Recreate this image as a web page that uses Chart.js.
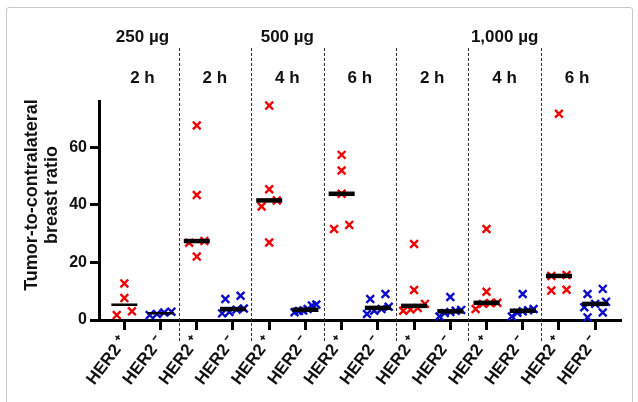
<!DOCTYPE html>
<html>
<head>
<meta charset="utf-8">
<script src="https://cdn.jsdelivr.net/npm/chart.js@4.4.1/dist/chart.umd.min.js"></script>
<style>
    body { margin: 0; background: #fff; }
    #frame { position: absolute; left: 6px; top: 7px; width: 625px; height: 420px; border: 1px solid #c9c9c9; border-radius: 3px; }
    #wrap { position: absolute; left: 0; top: 0; width: 638px; height: 402px; }
</style>
</head>
<body>
<div id="frame"></div>
<div id="wrap"><canvas id="chart" width="638" height="402"></canvas></div>
<script>
const xLabels = ['HER2 \u207A', 'HER2 \u207B', 'HER2 \u207A', 'HER2 \u207B', 'HER2 \u207A', 'HER2 \u207B', 'HER2 \u207A',
                 'HER2 \u207B', 'HER2 \u207A', 'HER2 \u207B', 'HER2 \u207A', 'HER2 \u207B', 'HER2 \u207A', 'HER2 \u207B'];
const timeLabels = ['2 h', '2 h', '4 h', '6 h', '2 h', '4 h', '6 h'];
const doseLabels = ['250 \u00B5g', '500 \u00B5g', '1,000 \u00B5g'];
const dosePeriods = [1, 3, 3];   // how many time points sit under each dose
const yTicks = [0, 20, 40, 60];
const yTitle = ['Tumor-to-contralateral', 'breast ratio'];

// tumor-to-contralateral ratios, one list per time point
const her2Pos = [
    [1.7, 3.0, 7.6, 12.7],
    [22.0, 26.8, 27.4, 43.4, 67.5],
    [26.9, 39.4, 41.5, 45.4, 74.4],
    [31.6, 33.0, 43.8, 51.9, 57.3],
    [3.2, 3.6, 4.2, 5.6, 10.4, 26.4],
    [3.8, 5.6, 5.9, 6.0, 9.8, 31.6],
    [10.2, 10.5, 15.3, 15.6, 71.6]
];
const her2Neg = [
    [1.7, 2.1, 2.6, 2.9],
    [2.3, 2.8, 3.6, 4.0, 7.3, 8.4],
    [2.7, 3.1, 3.3, 3.8, 5.0, 5.4],
    [2.1, 3.2, 3.8, 4.6, 7.3, 9.0],
    [1.2, 2.4, 2.8, 3.2, 3.5, 8.0],
    [1.2, 2.5, 3.0, 3.4, 3.8, 9.0],
    [0.9, 2.6, 4.4, 5.6, 6.3, 9.0, 10.8]
];

const FONT = '"Liberation Sans", Arial, sans-serif';

function median(vals) {
    const s = [...vals].sort((a, b) => a - b);
    const m = Math.floor(s.length / 2);
    return s.length % 2 ? s[m] : (s[m - 1] + s[m]) / 2;
}

// spread points with close values side by side, like a scatter dot plot
function spreadOffsets(vals) {
    const order = vals.map((v, i) => i).sort((a, b) => vals[a] - vals[b]);
    const offsets = new Array(vals.length).fill(0);
    let start = 0;
    while (start < order.length) {
        let end = start + 1;
        while (end < order.length && vals[order[end]] - vals[order[start]] < 3) end++;
        const n = end - start;
        const step = n > 1 ? Math.min(0.42, 0.6 / (n - 1)) : 0;
        for (let k = 0; k < n; k++) offsets[order[start + k]] = (k - (n - 1) / 2) * step;
        start = end;
    }
    return offsets;
}

function buildPoints(groups, first) {
    const pts = [];
    groups.forEach((vals, g) => {
        const off = spreadOffsets(vals);
        vals.forEach((v, i) => pts.push({ x: first + g * 2 + off[i], y: v }));
    });
    return pts;
}

const medianPoints = [];
her2Pos.forEach((vals, g) => {
    medianPoints.push({ x: g * 2 + 1, y: median(vals) });
    medianPoints.push({ x: g * 2 + 2, y: median(her2Neg[g]) });
});

const headerPlugin = {
    id: 'headers',
    beforeDatasetsDraw(chart) {
        const ctx = chart.ctx;
        const xs = chart.scales.x;
        ctx.save();
        ctx.strokeStyle = '#333';
        ctx.lineWidth = 1;
        ctx.setLineDash([3, 2]);
        for (let g = 1; g < timeLabels.length; g++) {
            const px = Math.round(xs.getPixelForValue(g * 2 + 0.5)) + 0.5;
            ctx.beginPath();
            ctx.moveTo(px, 48);
            ctx.lineTo(px, 342);
            ctx.stroke();
        }
        ctx.setLineDash([]);
        ctx.fillStyle = '#111';
        ctx.font = 'bold 17px ' + FONT;
        ctx.textAlign = 'center';
        ctx.textBaseline = 'middle';
        timeLabels.forEach((t, g) => {
            ctx.fillText(t, xs.getPixelForValue(g * 2 + 1.5), 78);
        });
        let startGroup = 0;
        doseLabels.forEach((d, i) => {
            const a = startGroup * 2 + 1;
            const b = (startGroup + dosePeriods[i]) * 2;
            ctx.fillText(d, xs.getPixelForValue((a + b) / 2), 37);
            startGroup += dosePeriods[i];
        });

        // y axis title, two lines
        ctx.translate(32, 195);
        ctx.rotate(-Math.PI / 2);
        ctx.font = 'bold 18px ' + FONT;
        yTitle.forEach((t, i) => ctx.fillText(t, 0, i * 20));
        ctx.restore();
    }
};

new Chart(document.getElementById('chart'), {
    type: 'scatter',
    data: {
        datasets: [
            {
                label: 'Median',
                data: medianPoints,
                pointStyle: 'line',
                pointRadius: 13,
                pointBorderColor: '#000',
                pointBorderWidth: ctx => ctx.dataIndex < 2 ? 2.5 : 4.5,
                clip: false
            },
            {
                label: 'HER2 +',
                data: buildPoints(her2Pos, 1),
                pointStyle: 'crossRot',
                pointRadius: 5.5,
                pointBorderColor: '#f00000',
                pointBorderWidth: 2.4,
                clip: false
            },
            {
                label: 'HER2 -',
                data: buildPoints(her2Neg, 2),
                pointStyle: 'crossRot',
                pointRadius: 5.5,
                pointBorderColor: '#0a0ac8',
                pointBorderWidth: 2.4,
                clip: false
            }
        ]
    },
    options: {
        responsive: false,
        animation: false,
        layout: { padding: { top: 101, right: 11, left: 0, bottom: 0 } },
        plugins: {
            legend: { display: false },
            tooltip: { enabled: false }
        },
        scales: {
            x: {
                type: 'linear',
                min: 0.3,
                max: 14.7,
                afterBuildTicks: axis => { axis.ticks = xLabels.map((l, i) => ({ value: i + 1 })); },
                afterFit: axis => { axis.height = 82; },
                border: { color: '#000', width: 3 },
                grid: { drawOnChartArea: false, color: '#000', lineWidth: 3, tickLength: 10 },
                ticks: {
                    callback: (v, i) => xLabels[i],
                    autoSkip: false,
                    minRotation: 53,
                    maxRotation: 53,
                    padding: 2,
                    color: '#111',
                    font: { family: FONT, size: 17, weight: 'bold' }
                }
            },
            y: {
                min: 0,
                max: 76,
                afterBuildTicks: axis => { axis.ticks = yTicks.map(v => ({ value: v })); },
                afterFit: axis => { axis.width = 99; },
                border: { color: '#000', width: 3 },
                grid: { drawOnChartArea: false, color: '#000', lineWidth: 3, tickLength: 9 },
                ticks: {
                    padding: 3,
                    color: '#111',
                    font: { family: FONT, size: 16, weight: 'bold' }
                }
            }
        }
    },
    plugins: [headerPlugin]
});
</script>
</body>
</html>
